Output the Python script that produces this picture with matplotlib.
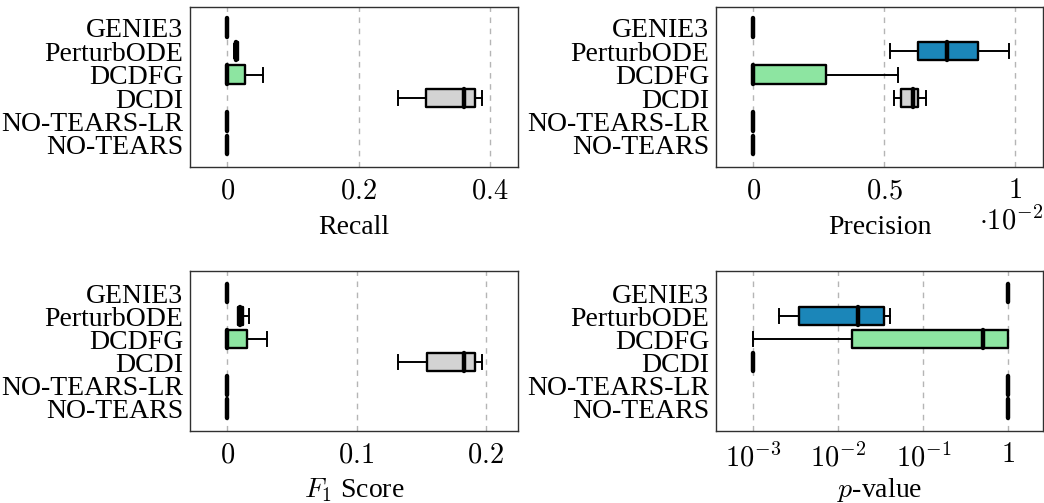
import matplotlib
matplotlib.use("Agg")
import matplotlib.pyplot as plt
import numpy as np

plt.rcParams['font.family'] = ['Liberation Serif', 'DejaVu Serif']
plt.rcParams['mathtext.fontset'] = 'cm'

methods = ["GENIE3", "PerturbODE", "DCDFG", "DCDI", "NO-TEARS-LR", "NO-TEARS"]
colors = ["#d3d3d3", "#1b86b9", "#8de5a1", "#d3d3d3", "#d3d3d3", "#d3d3d3"]

# five-number summaries per method: (whislo, q1, med, q3, whishi)
recall = [
    (0, 0, 0, 0, 0),
    (0.010, 0.011, 0.013, 0.016, 0.017),
    (0, 0, 0, 0.0275, 0.055),
    (0.2605, 0.303, 0.361, 0.377, 0.388),
    (0, 0, 0, 0, 0),
    (0, 0, 0, 0, 0),
]
precision = [  # raw values
    (0, 0, 0, 0, 0),
    (0.00523, 0.00629, 0.00741, 0.00858, 0.00975),
    (0, 0, 0, 0.00276, 0.00552),
    (0.00537, 0.00564, 0.00608, 0.00629, 0.00659),
    (0, 0, 0, 0, 0),
    (0, 0, 0, 0, 0),
]
f1 = [
    (0, 0, 0, 0, 0),
    (0.0083, 0.0085, 0.010, 0.0124, 0.0165),
    (0, 0, 0, 0.0155, 0.0305),
    (0.1324, 0.1543, 0.1834, 0.1917, 0.1974),
    (0, 0, 0, 0, 0),
    (0, 0, 0, 0, 0),
]
pvalue = [
    (1, 1, 1, 1, 1),
    (0.0020, 0.00347, 0.0169, 0.0345, 0.0402),
    (0.001, 0.0145, 0.508, 1.0, 1.0),
    (0.001, 0.001, 0.001, 0.001, 0.001),
    (1, 1, 1, 1, 1),
    (1, 1, 1, 1, 1),
]

W, H = 1044, 503
fig = plt.figure(figsize=(W / 100, H / 100), dpi=100)

def px_axes(l, t, r, b):
    return fig.add_axes([l / W, 1 - b / H, (r - l) / W, (b - t) / H])

FS = 20
TFS = 20.5

def draw(ax, data, xlim, ticks, ticklabels, xlabel, ylim, label_y, log=False):
    stats = []
    for (lo, q1, med, q3, hi) in data:
        stats.append(dict(whislo=lo, q1=q1, med=med, q3=q3, whishi=hi, fliers=[]))
    pos = np.arange(1, len(data) + 1)
    bp = ax.bxp(stats, positions=pos, vert=False, widths=0.8, patch_artist=True,
                showfliers=False, capwidths=0.6,
                boxprops=dict(linewidth=1.7, edgecolor='black'),
                medianprops=dict(color='black', linewidth=3.2, solid_capstyle='round'),
                whiskerprops=dict(color='black', linewidth=1.4),
                capprops=dict(color='black', linewidth=1.4))
    for patch, c in zip(bp['boxes'], colors):
        patch.set_facecolor(c)
        patch.set_joinstyle('round')
    if log:
        ax.set_xscale('log')
        ax.minorticks_off()
    ax.set_xlim(*xlim)
    ax.set_ylim(*ylim)
    ax.set_xticks(ticks)
    ax.set_xticklabels(ticklabels, fontsize=TFS)
    ax.set_yticks(pos)
    ax.set_yticklabels(methods, fontsize=FS)
    ax.tick_params(axis='y', length=0, pad=5)
    ax.tick_params(axis='x', length=0, pad=9)
    ax.xaxis.grid(True, color='#b5b5b5', linestyle=(0, (4, 4)), linewidth=1.0)
    ax.set_axisbelow(True)
    for s in ax.spines.values():
        s.set_color('#303030')
        s.set_linewidth(1.0)
    ax.set_xlabel(xlabel, fontsize=FS)
    ax.xaxis.set_label_coords(0.5, label_y)
    ax.xaxis.label.set_va('baseline')

TOP_LY = (167 - 234) / 160
BOT_LY = (431 - 497) / 160.3

ax1 = px_axes(190, 7, 518, 167)
draw(ax1, recall, (-0.0568, 0.4428), [0, 0.2, 0.4], ['$0$', '$0.2$', '$0.4$'], 'Recall', (6.94, 0.12), TOP_LY)

ax2 = px_axes(716.3, 7, 1043, 167)
draw(ax2, precision, (-0.00141, 0.01106), [0, 0.005, 0.01], ['$0$', '$0.5$', '$1$'], 'Precision', (6.94, 0.12), TOP_LY)
ax2.text(1.0, (167 - 229) / 160, r'$\cdot 10^{-2}$', transform=ax2.transAxes, ha='right', va='baseline', fontsize=TFS)

ax3 = px_axes(190, 270.7, 518, 431)
draw(ax3, f1, (-0.0289, 0.225), [0, 0.1, 0.2], ['$0$', '$0.1$', '$0.2$'], r'$F_1$ Score', (6.98, 0.03), BOT_LY)

ax4 = px_axes(716.3, 270.7, 1043, 431)
draw(ax4, pvalue, (10 ** -3.435, 10 ** 0.408), [1e-3, 1e-2, 1e-1, 1],
     ['$10^{-3}$', '$10^{-2}$', '$10^{-1}$', '$1$'], r'$p$-value', (6.98, 0.03), BOT_LY, log=True)

fig.savefig('out.png', dpi=100)
